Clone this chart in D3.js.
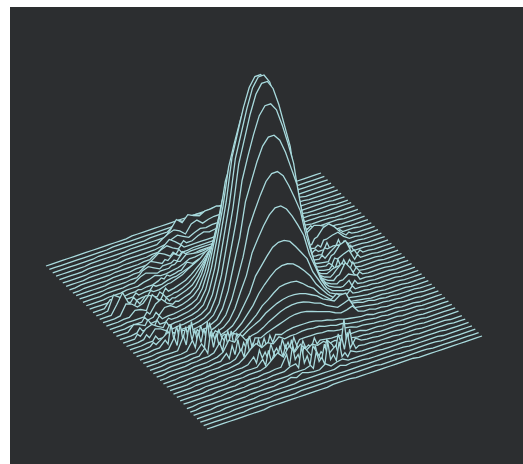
<!DOCTYPE html>
<html>
<head>
<meta charset="utf-8">
<script src="https://d3js.org/d3.v7.min.js"></script>
<style>
  html, body { margin: 0; background: #fff; }
  svg { display: block; }
</style>
</head>
<body>
<script>
// surface heights, back row first, 49 samples per row
const surfaceRows = [
  [0,0,0,0,0,0,0,0,0,0,0,0,0,0,0,1,1,1,1,1,1,1,1,1, 1,1,1,1,1,1,1,1,1,0,0,0,0,0,0,0,0,0,0,0,0,0,0,0,0],
  [0,0,0,0,0,0,0,0,0,0,0,1,1,1,1,1,1,1,1,1,1,1,2,2, 5,4,1,1,1,1,1,1,1,1,1,1,1,0,0,0,0,0,0,0,0,0,0,0,0],
  [0,0,0,0,0,0,0,0,1,1,1,1,1,1,1,1,1,2,2,2,2,6,10,6, 10,10,9,10,11,10,10,1,1,1,1,1,1,1,1,1,0,0,0,0,0,0,0,0,0],
  [0,0,0,0,0,0,1,1,1,1,1,1,1,2,2,2,2,2,2,2,8,16,11,17, 14,12,15,15,16,14,12,2,2,2,2,1,1,1,1,1,1,1,0,0,0,0,0,0,0],
  [0,0,0,0,0,1,1,1,1,1,1,2,2,2,2,2,2,2,6,9,11,8,3,11, 13,8,10,11,11,11,8,2,2,2,2,2,2,1,1,1,1,1,1,0,0,0,0,0,0],
  [0,0,0,0,0,1,1,1,1,1,1,2,2,2,2,2,2,3,4,7,9,6,3,6, 8,7,8,8,9,8,5,2,2,2,2,2,2,1,1,1,1,1,1,0,0,0,0,0,0],
  [0,0,0,0,1,1,1,1,1,1,2,2,2,2,2,3,3,7,12,8,3,3,3,6, 8,6,7,8,8,7,3,3,3,2,2,2,2,2,1,1,1,1,1,1,0,0,0,0,0],
  [0,0,1,1,1,1,1,1,2,2,2,2,2,3,3,6,9,11,7,4,4,4,4,4, 4,4,4,4,4,4,3,3,3,3,3,2,2,2,2,2,1,1,1,1,1,1,0,0,0],
  [0,0,1,1,1,1,1,2,2,2,2,3,3,3,7,11,8,4,4,4,4,5,5,5, 5,5,5,4,4,4,4,4,4,3,3,3,3,2,2,2,2,1,1,1,1,1,0,0,0],
  [1,1,1,1,1,1,2,2,2,2,3,3,7,10,7,4,5,10,6,6,7,7,7,7, 7,7,7,7,6,6,5,5,4,4,3,3,3,3,2,2,2,2,1,1,1,1,1,1,1],
  [1,1,1,1,1,2,2,2,2,3,3,8,10,7,4,6,6,6,13,8,8,9,9,9, 9,9,9,8,8,7,6,6,6,4,4,4,3,3,3,2,2,2,2,1,1,1,1,1,1],
  [1,1,1,1,2,2,2,2,3,3,7,9,7,5,6,6,8,9,14,13,12,12,13,13, 13,13,12,12,10,9,9,8,6,6,5,4,4,3,3,3,2,2,2,2,1,1,1,1,1],
  [1,1,1,1,2,2,2,3,3,3,5,6,8,6,6,7,8,10,13,13,14,15,16,16, 16,16,15,14,12,11,10,8,7,7,6,5,5,4,3,3,3,2,2,2,2,1,1,1,1],
  [1,1,1,1,2,2,2,3,3,3,4,4,6,6,7,8,9,15,12,14,15,17,18,18, 18,18,17,15,14,12,11,9,8,7,6,6,4,4,3,3,3,2,2,2,1,1,1,1,1],
  [1,1,1,8,6,2,3,3,3,4,4,6,6,8,9,10,12,14,17,19,21,23,25,26, 26,25,23,21,19,17,14,12,10,9,8,6,6,10,14,9,3,3,2,2,2,1,1,1,1],
  [1,1,2,16,12,5,3,3,4,4,6,6,8,9,11,13,17,20,23,28,31,34,36,37, 37,36,34,31,28,23,20,17,13,11,9,8,10,14,18,16,13,9,2,2,2,2,1,1,1],
  [1,1,1,10,20,8,2,3,9,7,4,5,6,7,9,11,15,20,25,32,36,41,45,46, 46,45,41,36,32,25,20,15,11,9,7,6,5,4,10,17,19,14,7,2,2,1,1,1,1],
  [1,1,1,2,12,10,5,7,13,9,4,5,6,7,9,12,17,24,31,41,48,54,59,61, 61,59,54,48,41,31,24,17,12,9,7,6,5,4,3,9,11,12,6,2,2,1,1,1,1],
  [1,1,1,2,2,7,6,3,17,10,4,5,6,8,10,13,20,30,40,55,63,71,78,81, 81,78,71,63,55,40,30,20,13,10,8,6,5,4,4,3,3,2,2,2,2,1,1,1,1],
  [1,1,1,2,2,2,2,3,11,14,8,5,6,8,10,15,25,40,54,75,87,98,107,112, 112,107,98,87,75,54,40,25,15,10,8,6,5,4,8,9,8,2,2,2,2,1,1,1,1],
  [1,1,1,2,2,2,2,3,3,9,9,5,6,8,11,17,30,49,69,96,111,125,137,143, 143,137,125,111,96,69,49,30,17,11,8,6,5,4,9,13,11,2,2,2,2,1,1,1,1],
  [1,1,1,7,5,2,2,3,3,4,4,5,6,8,11,20,36,61,85,119,137,155,169,176, 176,169,155,137,119,85,61,36,20,11,8,6,5,4,10,17,19,6,2,2,2,1,1,1,1],
  [1,1,1,2,2,2,2,3,3,4,4,5,6,8,12,22,42,70,99,137,159,179,196,204, 204,196,179,159,137,99,70,42,22,12,8,6,5,4,8,11,13,2,2,2,2,1,1,1,1],
  [1,1,1,2,8,10,6,3,3,4,4,5,6,8,12,24,45,76,108,150,173,196,214,223, 223,214,196,173,150,108,76,45,24,12,8,6,5,4,4,3,3,2,2,2,2,1,1,1,1],
  [1,1,1,2,2,9,7,3,3,4,4,5,6,8,12,24,46,78,110,152,175,198,217,226, 226,217,198,175,152,110,78,46,24,12,8,6,9,10,8,3,3,2,2,2,2,1,1,1,1],
  [1,1,1,2,2,2,2,3,3,4,4,5,6,8,12,24,45,76,108,150,173,196,214,223, 223,214,196,173,150,108,76,45,24,12,8,6,11,16,10,3,3,2,2,2,2,1,1,1,1],
  [1,1,1,2,2,6,10,8,3,4,4,5,6,8,12,22,42,70,99,137,159,179,196,204, 204,196,179,159,137,99,70,42,22,12,8,6,10,20,12,3,3,2,2,2,2,1,1,1,1],
  [1,1,1,2,2,8,22,18,12,9,4,5,6,8,11,20,36,61,85,119,137,155,169,176, 176,169,155,137,119,85,61,36,20,11,8,6,8,12,9,3,3,2,2,2,2,1,1,1,1],
  [1,1,1,2,2,2,12,24,19,22,12,5,6,8,11,17,30,49,69,96,111,125,137,143, 143,137,125,111,96,69,49,30,17,11,8,6,8,4,4,3,3,2,2,2,2,1,1,1,1],
  [1,1,1,2,2,2,2,15,24,17,20,12,6,8,10,15,25,40,54,75,87,98,107,112, 112,107,98,87,75,54,40,25,15,10,8,6,5,4,4,3,3,2,2,2,2,1,1,1,1],
  [1,1,1,2,2,2,2,3,12,18,20,24,14,8,10,13,20,30,40,55,63,71,78,81, 81,78,71,63,55,40,30,20,13,10,8,6,5,4,4,3,3,2,2,2,2,1,1,1,1],
  [1,1,1,2,2,2,2,3,3,10,30,16,18,12,9,12,17,24,31,41,48,54,59,61, 61,59,54,48,41,31,24,17,12,9,7,6,5,4,3,3,3,2,2,2,2,1,1,1,1],
  [1,1,1,2,2,2,2,3,3,9,24,20,14,18,14,11,15,20,25,32,36,41,45,46, 46,45,41,36,32,25,20,15,19,14,7,6,5,4,3,3,3,2,2,2,2,1,1,1,1],
  [1,1,2,2,2,2,3,3,4,4,6,14,20,22,17,13,17,20,23,28,31,34,36,37, 37,36,34,31,28,23,20,17,21,21,9,8,6,6,4,4,3,3,2,2,2,2,1,1,1],
  [1,1,2,2,2,2,3,3,3,4,5,8,18,14,20,12,15,16,19,23,26,29,31,32, 32,31,29,26,24,20,17,14,16,18,8,7,6,5,4,4,3,3,2,2,2,2,1,1,1],
  [1,1,1,2,2,2,3,3,3,4,4,10,16,20,15,20,16,14,17,19,21,23,25,26, 26,25,23,21,19,17,14,12,13,15,8,6,6,4,4,3,3,3,2,2,2,1,1,1,1],
  [1,1,1,1,2,2,2,3,3,3,4,4,6,14,22,15,18,17,18,17,15,17,18,18, 18,18,17,15,14,12,11,9,8,7,6,6,4,4,3,3,3,2,2,2,1,1,1,1,1],
  [1,1,1,1,2,2,2,3,3,3,3,4,5,9,15,19,13,16,13,18,14,15,15,16, 16,15,15,13,12,10,10,8,7,6,6,5,4,4,3,3,3,2,2,2,1,1,1,1,1],
  [1,1,1,1,2,2,2,2,3,3,3,4,4,5,11,16,12,18,12,19,14,17,13,13, 13,13,12,12,10,9,9,8,6,6,5,4,4,3,3,3,2,2,2,2,1,1,1,1,1],
  [1,1,1,1,1,2,2,2,2,3,3,3,4,4,4,10,17,12,18,16,20,12,15,9, 14,10,9,8,8,7,6,6,6,4,4,4,3,3,3,2,2,2,2,1,1,1,1,1,1],
  [1,1,1,1,1,2,2,2,2,3,3,3,4,4,4,6,11,16,10,19,11,17,9,13, 10,12,8,9,7,6,6,5,5,4,4,3,3,3,3,2,2,2,2,1,1,1,1,1,1],
  [1,1,1,1,1,1,2,2,2,2,3,3,3,3,4,4,5,5,16,22,12,18,9,15, 7,17,10,19,32,20,9,5,4,4,3,3,3,3,2,2,2,2,1,1,1,1,1,1,1],
  [0,0,1,1,1,1,1,2,2,2,2,3,3,3,3,4,4,4,7,8,24,12,20,9, 18,8,13,20,22,10,5,4,4,3,3,3,3,2,2,2,2,1,1,1,1,1,0,0,0],
  [0,0,1,1,1,1,1,1,2,2,2,2,2,3,3,3,3,3,4,4,4,6,18,10, 24,9,20,7,7,4,3,3,3,3,3,2,2,2,2,2,1,1,1,1,1,1,0,0,0],
  [0,0,0,0,1,1,1,1,1,1,2,2,2,2,2,3,3,5,3,6,4,3,3,7, 3,5,6,3,3,3,3,3,3,2,2,2,2,2,1,1,1,1,1,1,0,0,0,0,0],
  [0,0,0,0,0,1,1,1,1,1,1,2,2,2,2,2,2,2,3,3,3,3,3,3, 3,5,3,4,3,3,2,2,2,2,2,2,2,1,1,1,1,1,1,0,0,0,0,0,0],
  [0,0,0,0,0,0,1,1,1,1,1,1,1,2,2,2,2,2,2,2,2,2,2,2, 2,2,2,2,2,2,2,2,2,2,2,1,1,1,1,1,1,1,0,0,0,0,0,0,0],
  [0,0,0,0,0,0,0,0,1,1,1,1,1,1,1,1,1,2,2,2,2,2,2,2, 2,2,2,2,2,2,2,1,1,1,1,1,1,1,1,1,0,0,0,0,0,0,0,0,0],
  [0,0,0,0,0,0,0,0,0,0,0,1,1,1,1,1,1,1,1,1,1,1,2,2, 2,2,1,1,1,1,1,1,1,1,1,1,1,0,0,0,0,0,0,0,0,0,0,0,0]
];

// jagged ring: extra samples between the columns, [row, column, height]
const ringFront = [
  [27,5.5,3],[27,6.5,6],[27,7.5,3],[28,6.5,3],[28,7.5,7],[28,8.5,4],[28,9.5,5],
  [29,7.5,5],[29,8.5,8],[29,9.5,4],[29,10.5,9],[30,8.5,4],[30,9.5,7],[30,10.5,6],[30,11.5,10],
  [31,9.5,5],[31,10.5,9],[31,11.5,7],[31,12.5,10],[32,9.5,3],[32,10.5,7],[32,11.5,6],[32,12.5,9],[32,13.5,7],
  [33,11.5,5],[33,12.5,8],[33,13.5,6],[33,14.5,10],[35,11.5,4],[35,12.5,6],[35,13.5,5],[35,14.5,8],[35,15.5,7],
  [36,13.5,5],[36,14.5,7],[36,15.5,5],[36,16.5,8],[36,17.5,7],[36,18.5,10],
  [38,14.5,4],[38,15.5,7],[38,16.5,4],[38,17.5,8],[38,18.5,5],[38,19.5,9],[38,20.5,6],[38,21.5,8],
  [39,15.5,3],[39,16.5,5],[39,17.5,3],[39,18.5,6],[39,19.5,4],[39,20.5,7],[39,21.5,4],[39,22.5,7],[39,23.5,5],[39,24.5,7],
  [41,18.5,3],[41,19.5,8],[41,20.5,3],[41,22.5,5],[41,23.5,2],[41,24.5,3],[41,26.5,3],[41,27.5,9],[41,28.5,7],[41,29.5,4],
  [42,19.5,3],[42,20.5,6],[42,21.5,2],[42,23.5,2],[42,24.5,7],[42,26.5,2],[42,27.5,6],[42,28.5,5],[42,29.5,3],
  [43,21.5,2],[43,22.5,7],[43,23.5,2],[43,24.5,5],[43,25.5,2],[43,26.5,4],[43,27.5,2]
];
const ringRight = [
  [13,37.5,5],[14,36.5,7],[14,40.5,5],[15,35.5,7],[15,42.5,5],[16,37.5,9],[16,43.5,4],[17,37.5,6],[17,38.5,9],
  [18,36.5,7],[18,38.5,10],[18,40.5,9],[18,41.5,6],[19,36.5,5],[19,37.5,10],[19,41.5,7],[20,36.5,8],[20,41.5,8],
  [21,37.5,9],[21,41.5,7],[21,42.5,5],[22,36.5,7],[22,37.5,10],[22,41.5,6],[23,36.5,8],[23,37.5,12],[23,38.5,10],[23,39.5,8],
  [24,38.5,8],[24,39.5,9],[25,35.5,8],[25,39.5,7],[26,35.5,9],[26,38.5,6],[26,39.5,6],[27,35.5,8],[27,38.5,8],
  [28,35.5,6],[28,36.5,10],[28,37.5,8],[29,35.5,6],[29,36.5,8],[30,34.5,6],[30,35.5,9],[31,33.5,7],[31,34.5,6]
];
const ringLeft = [
  [6,16.5,5],[6,20.5,6],[7,14.5,5],[7,19.5,7],[8,13.5,5],[8,17.5,7],[8,18.5,8],[9,11.5,5],[9,15.5,7],[9,18.5,9],
  [10,10.5,5],[10,14.5,6],[10,16.5,8],[10,19.5,7],[11,9.5,5],[11,13.5,6],[11,15.5,8],[11,16.5,10],
  [13,8.5,4],[13,12.5,8],[13,13.5,9],[13,15.5,9],[14,7.5,6],[14,10.5,8],[14,14.5,9],[15,6.5,7],[15,9.5,8],[15,12.5,9],
  [16,6.5,7],[16,10.5,8],[16,11.5,10],[17,10.5,9],[17,12.5,7],[18,10.5,9],[18,11.5,7],[19,6.5,6],[19,11.5,7],
  [20,5.5,6],[20,7.5,7],[21,5.5,7],[21,7.5,7],[22,3.5,6],[22,6.5,8],[22,8.5,6],[23,2.5,5],[23,7.5,8],
  [24,3.5,6],[24,7.5,8],[25,4.5,6],[25,6.5,8],[26,3.5,5],[26,8.5,8]
];

const width = 523;
const height = 464;
const background = '#2c2e30';
const lineColor = '#a8dadd';

const svg = d3.select('body')
  .append('svg')
  .attr('width', width)
  .attr('height', height);

svg.append('rect')
  .attr('x', 10)
  .attr('y', 7)
  .attr('width', width - 10)
  .attr('height', height - 7)
  .attr('fill', background);

// plane projection: each sample index moves along one edge of the floor
const nCols = surfaceRows[0].length - 1;
const nRows = surfaceRows.length - 1;
const colX = d3.scaleLinear().domain([0, nCols]).range([0, 275]);
const colY = d3.scaleLinear().domain([0, nCols]).range([0, -93]);
const rowX = d3.scaleLinear().domain([0, nRows]).range([46, 207]);
const rowY = d3.scaleLinear().domain([0, nRows]).range([266, 429]);

// merge the regular samples of a row with its ring samples, left to right
const ringSamples = d3.group([...ringFront, ...ringRight, ...ringLeft], d => d[0]);
const rowSamples = surfaceRows.map((row, r) => {
  const samples = row.map((h, c) => [c, h]);
  (ringSamples.get(r) || []).forEach(d => samples.push([d[1], d[2]]));
  return samples.sort((a, b) => a[0] - b[0]);
});

const rowLine = r => d3.line()
  .x(d => rowX(r) + colX(d[0]))
  .y(d => rowY(r) + colY(d[0]) - d[1]);

// filled under each row so nearer rows hide what is behind them
const rowMask = r => d3.area()
  .x(d => rowX(r) + colX(d[0]))
  .y0(d => rowY(r) + colY(d[0]))
  .y1(d => rowY(r) + colY(d[0]) - d[1]);

const rows = svg.append('g')
  .selectAll('g')
  .data(rowSamples)
  .enter()
  .append('g');

rows.append('path')
  .attr('d', (d, r) => rowMask(r)(d))
  .attr('fill', background)
  .attr('stroke', 'none');

rows.append('path')
  .attr('d', (d, r) => rowLine(r)(d))
  .attr('fill', 'none')
  .attr('stroke', lineColor)
  .attr('stroke-width', 1.3);
</script>
</body>
</html>
